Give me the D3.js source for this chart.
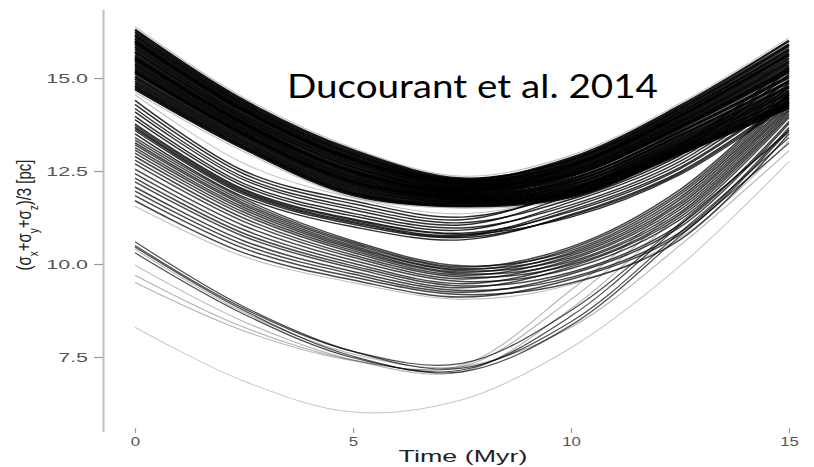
<!DOCTYPE html>
<html>
<head>
<meta charset="utf-8">
<script src="https://cdn.jsdelivr.net/npm/d3@7"></script>
<style>
  body { margin: 0; background: #fff; }
  svg { display: block; }
</style>
</head>
<body>
<svg id="chart" width="814" height="467"></svg>
<script>
// Sampling times (Myr) shared by every trajectory
const times = [0, 2.5, 5, 7.5, 10, 12.5, 15];
const xTicks = [0, 5, 10, 15];
const yTicks = [7.5, 10.0, 12.5, 15.0];

// Mean dispersion (pc) of each traced-back solution at the sampling times
const band1 = [
  [16.30, 14.40, 13.06, 12.30, 12.80, 14.19, 15.91],
  [16.24, 14.35, 13.01, 12.27, 12.85, 14.25, 16.00],
  [16.17, 14.30, 12.96, 12.24, 12.69, 14.06, 15.73],
  [16.12, 14.26, 12.93, 12.22, 12.77, 14.15, 15.86],
  [16.06, 14.21, 12.88, 12.19, 12.62, 13.96, 15.60],
  [16.01, 14.17, 12.84, 12.17, 12.72, 14.09, 15.78],
  [15.95, 14.11, 12.79, 12.14, 12.54, 13.86, 15.46],
  [15.90, 14.08, 12.76, 12.11, 12.65, 14.00, 15.66],
  [15.84, 14.02, 12.71, 12.08, 12.47, 13.78, 15.35],
  [15.79, 13.98, 12.67, 12.06, 12.58, 13.91, 15.53],
  [15.72, 13.93, 12.62, 12.03, 12.38, 13.67, 15.19],
  [15.68, 13.89, 12.59, 12.01, 12.50, 13.82, 15.41],
  [15.61, 13.84, 12.54, 11.98, 12.30, 13.57, 15.06],
  [15.56, 13.80, 12.50, 11.96, 12.43, 13.73, 15.28],
  [15.50, 13.75, 12.46, 11.93, 12.22, 13.47, 14.92],
  [15.45, 13.71, 12.42, 11.90, 12.36, 13.64, 15.15],
  [15.39, 13.66, 12.37, 11.87, 12.15, 13.38, 14.79],
  [15.34, 13.62, 12.33, 11.85, 12.27, 13.54, 15.01],
  [15.28, 13.57, 12.29, 11.82, 12.07, 13.29, 14.67],
  [15.23, 13.53, 12.25, 11.80, 12.20, 13.44, 14.88],
  [15.16, 13.48, 12.20, 11.77, 12.01, 13.21, 14.56],
  [15.12, 13.44, 12.16, 11.75, 12.12, 13.34, 14.74],
  [15.05, 13.39, 12.12, 11.72, 11.95, 13.13, 14.45],
  [14.99, 13.33, 12.07, 11.69, 12.04, 13.25, 14.61],
  [14.92, 13.28, 12.02, 11.66, 11.88, 13.05, 14.34],
  [14.86, 13.23, 11.97, 11.63, 11.97, 13.16, 14.49],
  [14.80, 13.18, 11.92, 11.60, 11.83, 12.99, 14.25],
  [14.75, 13.14, 11.89, 11.57, 11.91, 13.08, 14.38],
  [14.70, 13.10, 11.85, 11.55, 11.80, 12.95, 14.20],
  [15.98, 14.14, 12.82, 12.15, 12.41, 13.70, 15.24],
  [15.53, 13.78, 12.48, 11.94, 12.64, 13.99, 15.64],
  [15.18, 13.49, 12.21, 11.78, 11.85, 13.02, 14.29]
];

const band2 = [
  [14.40, 12.50, 11.70, 11.26, 11.93, 13.12, 15.20],
  [14.29, 12.42, 11.62, 11.19, 12.00, 13.20, 15.30],
  [14.18, 12.33, 11.53, 11.11, 11.74, 12.92, 14.95],
  [14.09, 12.26, 11.46, 11.05, 11.85, 13.04, 15.10],
  [13.97, 12.16, 11.36, 10.97, 11.59, 12.76, 14.75],
  [13.88, 12.09, 11.29, 10.91, 11.67, 12.84, 14.85],
  [13.77, 12.01, 11.21, 10.83, 11.41, 12.56, 14.50],
  [13.68, 11.94, 11.14, 10.77, 11.52, 12.68, 14.65],
  [13.59, 11.87, 11.07, 10.71, 11.30, 12.44, 14.35],
  [13.50, 11.80, 11.00, 10.65, 11.33, 12.48, 14.40],
  [13.73, 11.98, 11.18, 10.80, 11.26, 12.40, 14.30],
  [13.64, 11.91, 11.11, 10.74, 11.45, 12.60, 14.55]
];

const band3 = [
  [13.40, 11.75, 10.62, 9.95, 10.36, 11.87, 14.49],
  [13.33, 11.69, 10.58, 9.92, 10.46, 12.00, 14.60],
  [13.26, 11.63, 10.54, 9.88, 10.27, 11.73, 14.38],
  [13.20, 11.58, 10.49, 9.85, 10.41, 11.93, 14.55],
  [13.13, 11.52, 10.45, 9.82, 10.17, 11.60, 14.27],
  [13.06, 11.46, 10.41, 9.78, 10.31, 11.80, 14.44],
  [12.98, 11.39, 10.36, 9.74, 10.07, 11.46, 14.16],
  [12.89, 11.32, 10.31, 9.70, 10.22, 11.66, 14.33],
  [12.79, 11.23, 10.24, 9.65, 9.98, 11.33, 14.05],
  [12.69, 11.14, 10.18, 9.60, 10.12, 11.53, 14.22],
  [12.55, 11.03, 10.10, 9.53, 9.88, 11.19, 13.94],
  [12.43, 10.92, 10.02, 9.47, 10.02, 11.39, 14.11],
  [12.31, 10.82, 9.95, 9.41, 9.78, 11.06, 13.83],
  [12.21, 10.74, 9.89, 9.36, 9.93, 11.26, 14.00],
  [12.07, 10.62, 9.80, 9.29, 9.64, 10.85, 13.67],
  [11.96, 10.52, 9.73, 9.24, 9.73, 10.99, 13.78],
  [11.84, 10.42, 9.65, 9.18, 9.49, 10.65, 13.50],
  [11.70, 10.30, 9.57, 9.11, 9.59, 10.79, 13.61]
];

const band4Dark = [
  [10.60, 8.85, 7.65, 7.20, 8.45, 10.85, 13.40],
  [10.46, 8.75, 7.52, 7.10, 8.35, 10.75, 13.25],
  [10.30, 8.65, 7.48, 7.15, 8.60, 11.05, 13.60],
  [10.50, 8.80, 7.65, 7.33, 8.75, 11.10, 13.55]
];

const band4Light = [
  [9.97, 8.45, 7.42, 7.10, 8.80, 11.35, 13.95],
  [9.70, 8.30, 7.42, 7.24, 9.05, 11.55, 14.15],
  [9.50, 8.20, 7.40, 7.28, 9.30, 11.75, 14.30],
  [10.40, 8.70, 7.58, 7.24, 8.30, 10.50, 13.05]
];

const faint = [
  [16.38, 14.47, 13.12, 12.36, 12.92, 14.32, 16.08],
  [14.62, 13.02, 11.80, 11.50, 11.74, 12.88, 14.10],
  [14.55, 12.70, 11.78, 11.35, 11.90, 13.15, 14.90],
  [11.55, 10.20, 9.50, 9.05, 9.45, 10.70, 13.30]
];

const lowest = [
  [8.30, 6.85, 6.02, 6.35, 7.75, 9.95, 12.75]
];

const svg = d3.select("#chart");

const x = d3.scaleLinear().domain([0, 15]).range([135, 789]);
const y = d3.scaleLinear().domain([5.5, 16.85]).range([431.4, 9.2]);

const line = d3.line()
  .x((d, i) => x(times[i]))
  .y(d => y(d))
  .curve(d3.curveCatmullRom.alpha(0.5));

// Trajectory groups, drawn faint-to-dark so dense bundles read as solid ink
const groups = [
  { rows: lowest,     opacity: 0.22, width: 1.1 },
  { rows: faint,      opacity: 0.25, width: 1.1 },
  { rows: band4Light, opacity: 0.30, width: 1.1 },
  { rows: band4Dark,  opacity: 0.70, width: 1.2 },
  { rows: band3,      opacity: 0.72, width: 1.5 },
  { rows: band2,      opacity: 0.82, width: 1.4 },
  { rows: band1,      opacity: 0.90, width: 2.4 }
];

const plot = svg.append("g").attr("class", "trajectories");
groups.forEach(g => {
  plot.append("g")
    .selectAll("path")
    .data(g.rows)
    .join("path")
    .attr("d", line)
    .attr("fill", "none")
    .attr("stroke", "#000")
    .attr("stroke-opacity", g.opacity)
    .attr("stroke-width", g.width);
});

// Y axis
const yAxis = svg.append("g")
  .attr("transform", "translate(103,0)")
  .call(d3.axisLeft(y).tickValues(yTicks).tickFormat(d3.format(".1f")).tickSize(9).tickSizeOuter(0));
yAxis.select(".domain").attr("stroke", "#c4c4c4").attr("stroke-width", 2.2);
yAxis.selectAll(".tick line").attr("stroke", "#9a9a9a").attr("stroke-width", 1.2);
yAxis.selectAll(".tick text")
  .attr("x", -15 / 1.65)
  .attr("dy", "0.36em")
  .attr("transform", "scale(1.65,1)")
  .attr("fill", "#555")
  .style("font-family", "'Liberation Sans', Arial, sans-serif")
  .style("font-size", "13px");

// X axis (ticks and labels only)
const xAxis = svg.append("g")
  .attr("transform", "translate(0,428)")
  .call(d3.axisBottom(x).tickValues(xTicks).tickFormat(d3.format("d")).tickSize(5).tickPadding(4));
xAxis.select(".domain").remove();
xAxis.selectAll(".tick line").attr("stroke", "#9a9a9a").attr("stroke-width", 1.2);
xAxis.selectAll(".tick text")
  .attr("transform", "scale(1.4,1)")
  .attr("fill", "#555")
  .style("font-family", "'Liberation Sans', Arial, sans-serif")
  .style("font-size", "12px");

// Axis titles
svg.append("text")
  .attr("transform", "translate(463,462) scale(1.68,1)")
  .attr("text-anchor", "middle")
  .attr("fill", "#222")
  .style("font-family", "'Liberation Sans', Arial, sans-serif")
  .style("font-size", "16px")
  .text("Time (Myr)");

const yTitle = svg.append("text")
  .attr("transform", "translate(31,215) scale(1.3,1) rotate(-90)")
  .attr("text-anchor", "middle")
  .attr("fill", "#222")
  .style("font-family", "'Liberation Sans', Arial, sans-serif")
  .style("font-size", "15px");
yTitle.append("tspan").text("(σ");
yTitle.append("tspan").attr("baseline-shift", "sub").style("font-size", "10px").text("x");
yTitle.append("tspan").text("+σ");
yTitle.append("tspan").attr("baseline-shift", "sub").style("font-size", "10px").text("y");
yTitle.append("tspan").text("+σ");
yTitle.append("tspan").attr("baseline-shift", "sub").style("font-size", "10px").text("z");
yTitle.append("tspan").text(")/3 [pc]");

// Citation
svg.append("text")
  .attr("x", 287)
  .attr("y", 98)
  .attr("textLength", 371)
  .attr("lengthAdjust", "spacingAndGlyphs")
  .attr("fill", "#000")
  .style("font-family", "Lato, 'Open Sans', sans-serif")
  .style("font-size", "33px")
  .text("Ducourant et al. 2014");
</script>
</body>
</html>
